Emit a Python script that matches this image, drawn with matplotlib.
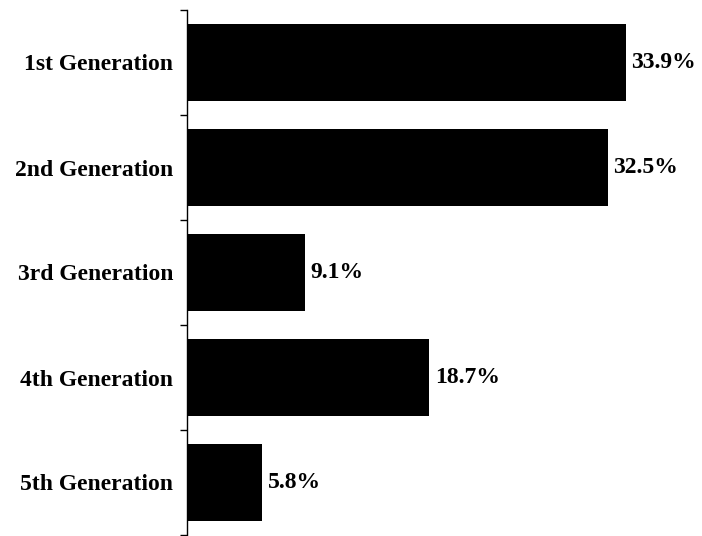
import matplotlib
matplotlib.use("Agg")
import matplotlib.pyplot as plt
import numpy as np

categories = ["1st Generation", "2nd Generation", "3rd Generation",
              "4th Generation", "5th Generation"]
shares = [33.9, 32.5, 9.1, 18.7, 5.8]
value_labels = ["33.9%", "32.5%", "9.1%", "18.7%", "5.8%"]

plt.rcParams["font.family"] = ["Liberation Serif", "DejaVu Serif"]

W, H = 702, 536
fig = plt.figure(figsize=(W / 100, H / 100), dpi=100)
ax = fig.add_axes([187 / W, 1 / H, 515 / W, 525 / H])

y = np.arange(len(categories))
ax.barh(y, shares, height=0.74, color="black")

for yi, v, lab in zip(y, shares, value_labels):
    ax.annotate(lab, (v, yi), xytext=(4, 0), textcoords="offset points",
                va="center", ha="left", fontsize=17, fontweight="bold")

ax.set_xlim(0, 515 / 12.95)
ax.set_ylim(len(categories) - 0.5, -0.5)

# boundary ticks between categories, category names on minor ticks
ax.set_yticks(np.arange(-0.5, len(categories), 1.0))
ax.set_yticklabels([])
ax.tick_params(axis="y", which="major", length=5, width=1, direction="out")
ax.set_yticks(y, minor=True)
ax.set_yticklabels(categories, minor=True, fontsize=17, fontweight="bold")
ax.tick_params(axis="y", which="minor", length=0, pad=10)

ax.set_xticks([])
for s in ["top", "right", "bottom"]:
    ax.spines[s].set_visible(False)
ax.spines["left"].set_linewidth(1)

fig.savefig("out.png", dpi=100)
